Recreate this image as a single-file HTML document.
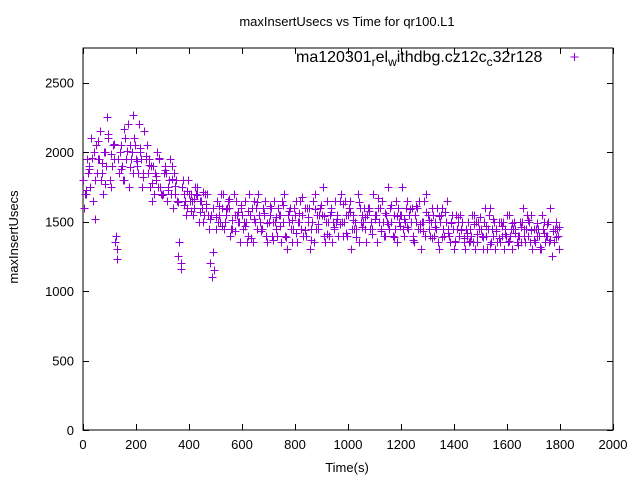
<!DOCTYPE html>
<html><head><meta charset="utf-8"><style>
body{margin:0;background:#fff}
svg text{font-family:"Liberation Sans",sans-serif;font-size:13px;fill:#000}
</style></head><body>
<svg id="chart" width="640" height="480">
<text x="347" y="26" text-anchor="middle">maxInsertUsecs vs Time for qr100.L1</text>
<rect x="83" y="48" width="530" height="382" fill="none" stroke="#000"/>
<g id="axes"></g>
<g id="pts"></g>
<text transform="translate(18,237) rotate(-90)" text-anchor="middle">maxInsertUsecs</text>
<text x="347" y="472" text-anchor="middle">Time(s)</text>
<g>
<text x="296" y="62" style="font-size:16px">ma120301<tspan dy="4" style="font-size:12px">r</tspan><tspan dy="-4">el</tspan><tspan dy="4" style="font-size:12px">w</tspan><tspan dy="-4">ithdbg.cz12c</tspan><tspan dy="4" style="font-size:12px">c</tspan><tspan dy="-4">32r128</tspan></text>
<path d="M570.5 57h8M574.5 53v8" stroke="#9400d3" stroke-width="1"/>
</g>
</svg>
<script>
const xTicks=[0,200,400,600,800,1000,1200,1400,1600,1800,2000];
const yTicks=[0,500,1000,1500,2000,2500];
const step=12;
const seriesOffsets=[0,4,8,10];
const valsA=[1800,1700,1900,1650,2050,1950,1850,2000,2100,1900,1350,1950,2050,1800,2200,1950,2100,1900,2000,1850,2050,1750,1900,1800,1950,1700,1850,1800,1900,1700,1250,1750,1650,1800,1700,1600,1750,1650,1550,1700,1200,1600,1650,1500,1700,1550,1600,1450,1650,1500,1550,1650,1400,1600,1500,1700,1450,1550,1350,1600,1650,1400,1550,1500,1300,1600,1450,1650,1500,1550,1400,1600,1500,1700,1450,1550,1350,1500,1600,1450,1550,1700,1500,1400,1650,1550,1450,1600,1500,1350,1600,1450,1550,1500,1650,1400,1750,1500,1450,1600,1550,1400,1650,1500,1350,1600,1450,1500,1700,1400,1550,1450,1300,1600,1500,1400,1550,1350,1500,1450,1300,1500,1400,1550,1350,1450,1500,1300,1600,1400,1450,1350,1500,1400,1550,1300,1450,1400,1500,1350,1400,1550,1350,1450,1300,1500,1400,1600,1350,1450];
const valsB=[1600,1950,1750,2000,1850,2150,1700,1900,1800,2050,1400,1850,1900,2100,1750,2000,2050,1850,1950,2150,1850,1900,1700,2000,1750,1850,1650,1950,1600,1800,1350,1800,1550,1700,1650,1750,1500,1600,1700,1550,1550,1150,1500,1700,1450,1600,1400,1700,1550,1350,1450,1500,1700,1350,1600,1550,1450,1650,1500,1400,1500,1600,1350,1700,1550,1450,1600,1350,1650,1400,1600,1300,1650,1450,1550,1750,1500,1400,1350,1650,1400,1500,1650,1550,1300,1450,1700,1500,1600,1550,1450,1700,1350,1600,1500,1550,1450,1400,1650,1500,1750,1500,1450,1600,1550,1450,1300,1650,1550,1500,1400,1600,1500,1450,1650,1350,1450,1550,1400,1500,1450,1350,1550,1300,1500,1400,1600,1450,1350,1500,1350,1500,1300,1550,1400,1450,1350,1500,1600,1450,1500,1300,1450,1400,1550,1350,1500,1250,1450,1400];
const valsC=[1700,1850,2100,1800,1950,1800,2000,2250,1750,1950,1300,2000,1800,1950,2050,1850,1950,2200,1750,1950,1950,1650,1850,1750,1700,1900,1750,1700,1850,1650,1200,1700,1600,1650,1550,1700,1650,1500,1600,1450,1100,1450,1550,1600,1500,1650,1450,1550,1500,1600,1500,1350,1550,1650,1450,1500,1600,1400,1550,1500,1450,1550,1650,1400,1500,1350,1550,1500,1450,1600,1500,1450,1350,1550,1600,1400,1650,1550,1500,1500,1650,1400,1550,1600,1450,1500,1350,1550,1450,1600,1500,1550,1600,1450,1400,1500,1600,1550,1350,1550,1450,1600,1550,1400,1500,1650,1500,1400,1450,1600,1500,1350,1550,1400,1450,1500,1300,1450,1550,1350,1400,1450,1350,1500,1450,1300,1400,1550,1450,1300,1500,1400,1450,1350,1450,1500,1400,1350,1450,1550,1350,1450,1400,1300,1450,1400,1350,1450,1500,1300];
const valsD=[1730,1880,1960,1520,2080,1920,1770,2130,1990,2060,1230,1880,2170,2010,1890,2270,1940,2030,1820,1970,1910,1780,1830,1960,1690,1870,1730,1810,1760,1640,1160,1620,1720,1580,1660,1690,1570,1710,1630,1520,1280,1530,1610,1470,1590,1660,1510,1430,1570,1620,1470,1580,1380,1520,1640,1430,1560,1490,1610,1370,1530,1470,1620,1390,1580,1510,1420,1560,1680,1440,1530,1370,1590,1480,1620,1540,1410,1570,1460,1520,1480,1630,1420,1570,1510,1390,1640,1460,1530,1580,1410,1520,1670,1430,1560,1480,1620,1390,1540,1470,1520,1460,1590,1370,1610,1480,1430,1570,1510,1380,1460,1540,1390,1570,1420,1490,1360,1530,1440,1380,1420,1360,1480,1410,1530,1390,1470,1340,1520,1430,1380,1470,1410,1360,1490,1420,1330,1460,1400,1510,1440,1370,1490,1320,1420,1480,1370,1430,1390,1460];
const X0=83,X1=613,Y0=430,Y1=48,XMAX=2000,YMAX=2750;
function sx(v){return X0+(v/XMAX)*(X1-X0);}
function sy(v){return Y0-(v/YMAX)*(Y0-Y1);}
const NS="http://www.w3.org/2000/svg";
const axes=document.getElementById('axes');
xTicks.forEach(t=>{
  const x=Math.round(sx(t))+0.5;
  const p=document.createElementNS(NS,'path');
  p.setAttribute('d',`M${x} ${Y0}v-6M${x} ${Y1}v6`);p.setAttribute('stroke','#000');
  
  
  axes.appendChild(p);
  const tx=document.createElementNS(NS,'text');
  tx.setAttribute('x',sx(t));tx.setAttribute('y',Y0+19);tx.setAttribute('text-anchor','middle');
  tx.textContent=t;
  
  
  axes.appendChild(tx);
});
yTicks.forEach(t=>{
  const y=Math.round(sy(t))+0.5;
  const p=document.createElementNS(NS,'path');
  p.setAttribute('d',`M${X0} ${y}h6M${X1} ${y}h-6`);p.setAttribute('stroke','#000');
  
  
  axes.appendChild(p);
  const tx=document.createElementNS(NS,'text');
  tx.setAttribute('x',X0-9);tx.setAttribute('y',sy(t)+5);tx.setAttribute('text-anchor','end');
  tx.textContent=t;
  
  
  axes.appendChild(tx);
});
const pts=document.getElementById('pts');
[valsA,valsB,valsC,valsD].forEach((vals,si)=>{
  let d='';
  vals.forEach((v,i)=>{
    const x=Math.round(sx(i*step+seriesOffsets[si]))+0.5,y=Math.round(sy(v))+0.5;
    d+=`M${x-4} ${y}h8M${x} ${y-4}v8`;
  });
  const p=document.createElementNS(NS,'path');
  p.setAttribute('d',d);p.setAttribute('stroke','#9400d3');p.setAttribute('fill','none');
  
  
  pts.appendChild(p);
});
</script>
</body></html>
